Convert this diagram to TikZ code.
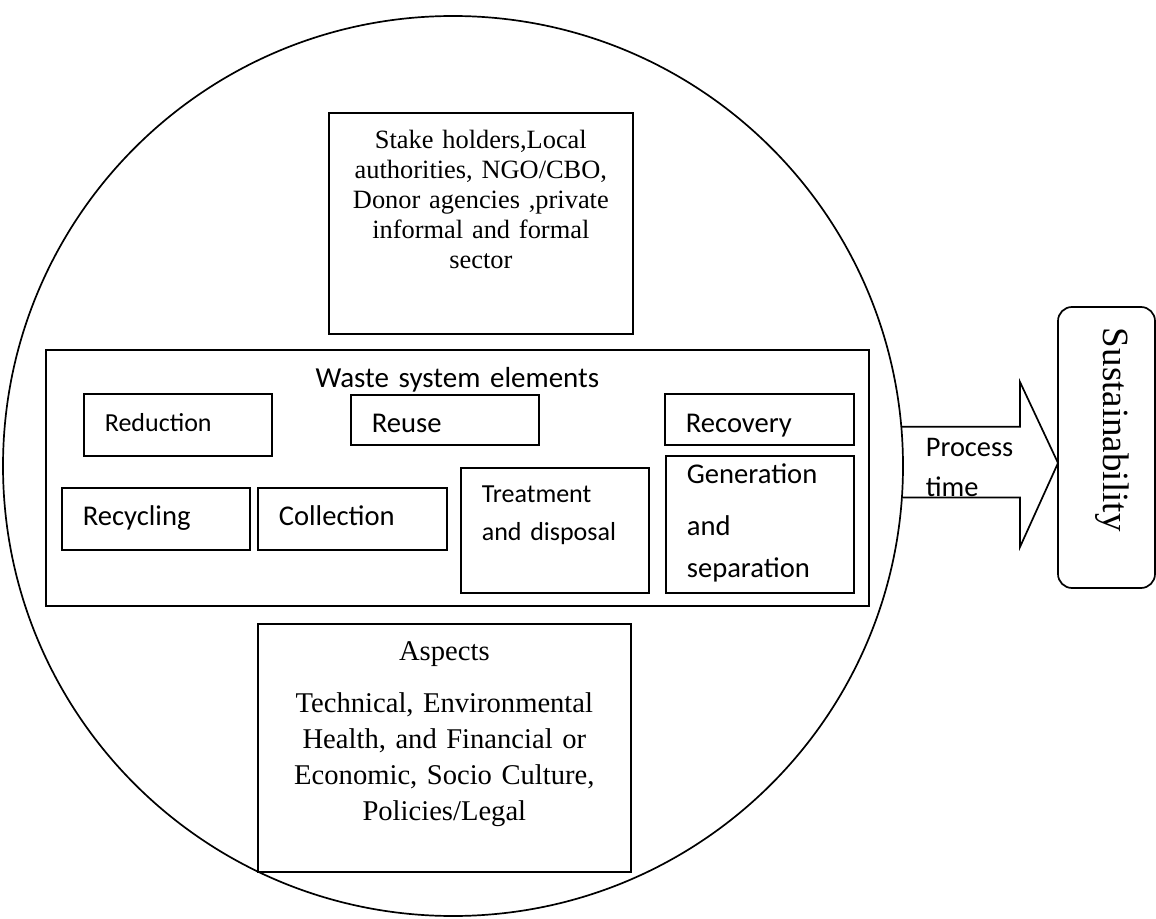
\documentclass[tikz,border=0pt]{standalone}
\usepackage{fontspec}
\setmainfont{Liberation Serif}
\newfontfamily\calibri{Carlito}
\usepackage{tikz}

\tikzset{
  elem/.style={draw, anchor=north west, align=left, inner xsep=10.5pt, inner ysep=0pt,
    font=\calibri\fontsize{14.3}{19}\selectfont},
  frame/.style={draw, anchor=north west, align=center, inner xsep=0pt, inner ysep=0pt},
}

\begin{document}
\begin{tikzpicture}[x=0.5pt, y=-0.5pt, line width=0.85pt]

    \useasboundingbox (0,0) rectangle (1156,919);

    % the big circle round everything
    \node [draw, circle, minimum size=450pt, inner sep=0pt] (ring) at (453,466) {};

    \node [
      frame, text width=152pt, text height=18pt, text depth=92.5pt,
      font=\fontsize{13.2}{15}\selectfont
    ] (stake) at (328,112)
      {
        Stake holders,Local\\
        authorities, NGO/CBO,\\
        Donor agencies ,private\\
        informal and formal\\
        sector
      };

    \node [
      frame, text width=411.5pt, text height=19pt, text depth=109pt,
      font=\calibri\fontsize{14.5}{17}\selectfont
    ] (waste) at (45,349)
      { Waste system elements };

    % elements, first row
    \node [elem, text width=73pt, text height=19pt, text depth=12pt,
      font=\calibri\fontsize{13}{16}\selectfont] (reduction) at (83,393) {Reduction};
    \node [elem, text width=73pt, text height=19pt, text depth=6pt] (reuse) at (350,394) {Reuse};
    \node [elem, text width=73.5pt, text height=19.5pt, text depth=6pt] (recovery) at (664,393) {Recovery};

    % elements, second row
    \node [elem, text width=73pt, text height=19pt, text depth=12pt] (recycling) at (61,487) {Recycling};
    \node [elem, text width=73.5pt, text height=19pt, text depth=12pt] (collection) at (257,487) {Collection};
    \node [elem, text width=73pt, text height=17.5pt, text depth=45pt,
      font=\calibri\fontsize{13}{19}\selectfont] (treatment) at (460,467)
      { Treatment\\and disposal };
    \node [elem, text width=73pt, text height=14pt, text depth=54.5pt,
      font=\calibri\fontsize{14.3}{21}\selectfont] (generation) at (665,455)
      { Generation\\[5pt]and\\separation };

    \node [
      frame, text width=186.5pt, text height=18.5pt, text depth=105.5pt,
      font=\fontsize{14.3}{18}\selectfont
    ] (aspects) at (257,623)
      {
        Aspects\\[8pt]
        Technical, Environmental\\
        Health, and Financial or\\
        Economic, Socio Culture,\\
        Policies/Legal
      };

    \node [
      draw, rounded corners=7pt, rotate=-90, align=left,
      text width=119.5pt, inner xsep=10.5pt, inner ysep=0pt,
      text height=26pt, text depth=22.5pt,
      font=\fontsize{18.5}{22}\selectfont
    ] (sust) at (1106.5,447.5)
      { Sustainability };

    % block arrow from the circle to the box
    \coordinate (headtop) at (1020,382);
    \coordinate (headbot) at (1020,547);
    \coordinate (tip) at (1058,463);
    \draw (ring.5.5) -- (ring.5.5 -| headtop) -- (headtop) -- (tip)
      -- (headbot) -- (ring.-4.85 -| headbot) -- (ring.-4.85);

    \node [anchor=base west, align=left, text width=50pt, inner sep=0pt,
      font=\calibri\fontsize{14.2}{20}\selectfont] (proc) at (925,457)
      { Process\\time };

\end{tikzpicture}
\end{document}
